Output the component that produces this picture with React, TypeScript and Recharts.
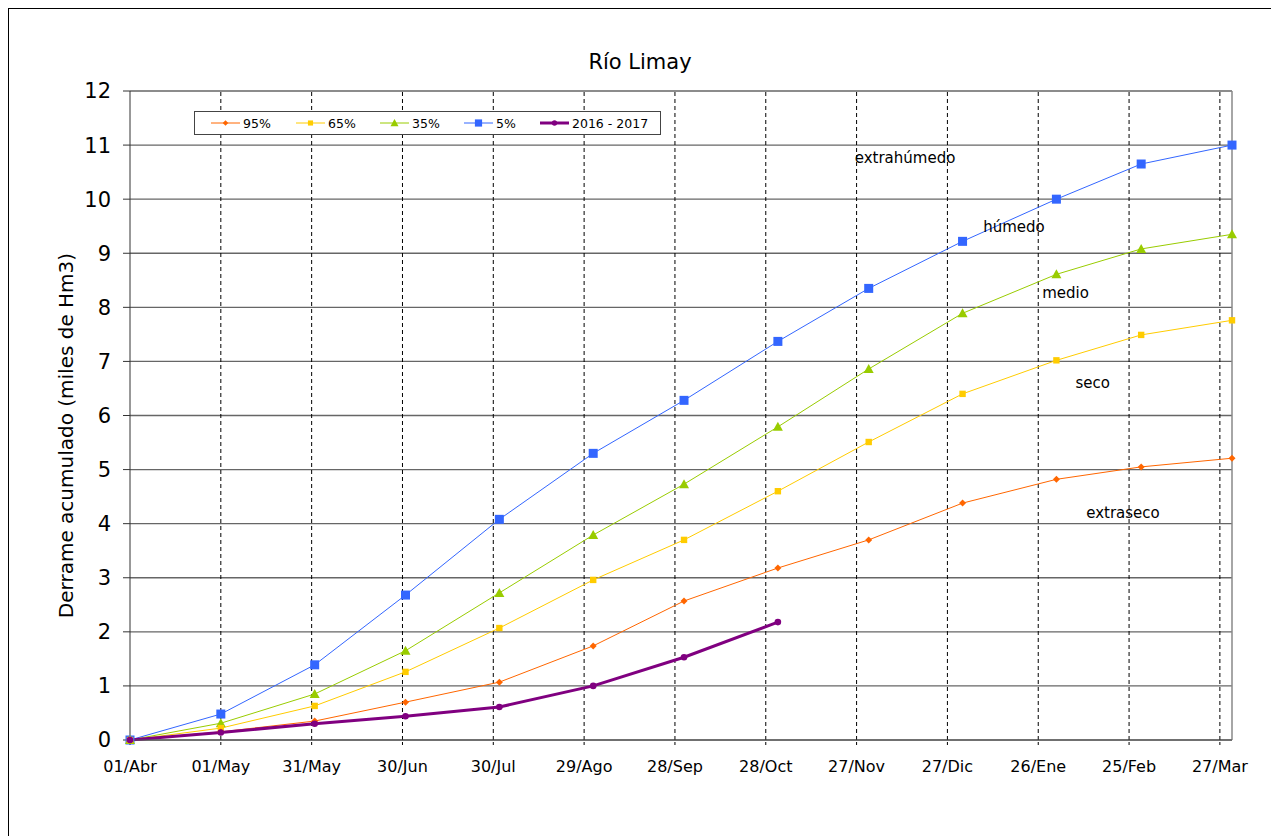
import React from 'react';
import { LineChart, Line, XAxis, YAxis, CartesianGrid, ReferenceLine, ReferenceDot } from 'recharts';

// days counted from 01/Abr
const DAYS = [0, 30, 61, 91, 122, 153, 183, 214, 244, 275, 306, 334, 364];
const P95 = [0, 0.15, 0.35, 0.7, 1.07, 1.74, 2.57, 3.18, 3.7, 4.38, 4.82, 5.05, 5.21];
const P65 = [0, 0.22, 0.63, 1.26, 2.07, 2.96, 3.7, 4.6, 5.51, 6.4, 7.02, 7.49, 7.76];
const P35 = [0, 0.31, 0.85, 1.65, 2.72, 3.79, 4.73, 5.79, 6.86, 7.89, 8.61, 9.08, 9.35];
const P5 = [0, 0.48, 1.39, 2.68, 4.08, 5.3, 6.28, 7.37, 8.35, 9.22, 10.0, 10.65, 11.0];
const Y2016 = [0, 0.14, 0.3, 0.44, 0.61, 1.0, 1.53, 2.18];

const TICK_DAYS = [0, 30, 60, 90, 120, 150, 180, 210, 240, 270, 300, 330, 360];
const TICK_LABELS = ['01/Abr', '01/May', '31/May', '30/Jun', '30/Jul', '29/Ago', '28/Sep', '28/Oct', '27/Nov', '27/Dic', '26/Ene', '25/Feb', '27/Mar'];
const Y_TICKS = [0, 1, 2, 3, 4, 5, 6, 7, 8, 9, 10, 11, 12];

const NOTE_TEXT = ['extrahúmedo', 'húmedo', 'medio', 'seco', 'extraseco'];
const NOTE_DAY = [256, 292, 309, 318, 328];
const NOTE_VAL = [10.76, 9.49, 8.28, 6.6, 4.2];

const data = DAYS.map((d, i) => ({
  day: d,
  p95: P95[i],
  p65: P65[i],
  p35: P35[i],
  p5: P5[i],
  y2016: Y2016[i] ?? null,
}));

const diamond = (cx: number, cy: number, fill: string, s: number, key?: any) => (
  <path key={key} d={`M${cx},${cy - s} L${cx + s},${cy} L${cx},${cy + s} L${cx - s},${cy} Z`} fill={fill} />
);
const square = (cx: number, cy: number, fill: string, s: number, key?: any) => (
  <rect key={key} x={cx - s} y={cy - s} width={s * 2} height={s * 2} fill={fill} />
);
const triangle = (cx: number, cy: number, fill: string, s: number, key?: any) => (
  <path key={key} d={`M${cx},${cy - s} L${cx + s},${cy + s * 0.8} L${cx - s},${cy + s * 0.8} Z`} fill={fill} />
);
const circle = (cx: number, cy: number, fill: string, s: number, key?: any) => (
  <circle key={key} cx={cx} cy={cy} r={s} fill={fill} />
);

const SERIES = [
  { key: 'p5', name: '5%', color: '#3366FF', width: 1, shape: square, size: 4.5 },
  { key: 'p35', name: '35%', color: '#99CC00', width: 1, shape: triangle, size: 5 },
  { key: 'p65', name: '65%', color: '#FFCC00', width: 1, shape: square, size: 3.2 },
  { key: 'p95', name: '95%', color: '#FF6600', width: 1, shape: diamond, size: 3.5 },
  { key: 'y2016', name: '2016 - 2017', color: '#800080', width: 3, shape: circle, size: 3.3 },
];
const LEGEND_ORDER = ['p95', 'p65', 'p35', 'p5', 'y2016'];
const LEGEND_X = [16, 101, 185, 269, 345];

const FONT = '"DejaVu Sans", Verdana, sans-serif';

export default function App() {
  return (
    <div style={{ position: 'relative', width: 1262, height: 840, border: '1px solid #000', fontFamily: FONT, background: '#fff' }}>
      <div style={{ position: 'absolute', top: 40, left: 0, width: '100%', textAlign: 'center', fontSize: 21, lineHeight: '26px' }}>
        Río Limay
      </div>
      <LineChart width={1262} height={840} data={data} margin={{ top: 82, right: 39, left: 51, bottom: 79 }}>
        <CartesianGrid vertical={false} stroke="#666" strokeWidth={1.3} />
        {TICK_DAYS.slice(1).map(d => (
          <ReferenceLine key={d} x={d} stroke="#000" strokeDasharray="4 3" />
        ))}
        <ReferenceLine x={364} stroke="#888" strokeWidth={1.5} />
        <XAxis
          type="number"
          dataKey="day"
          domain={[0, 364]}
          ticks={TICK_DAYS}
          tickFormatter={(v: number) => TICK_LABELS[TICK_DAYS.indexOf(v)]}
          axisLine={{ stroke: '#555' }}
          tickLine={{ stroke: '#000', strokeDasharray: '3 2' }}
          tickSize={5}
          tickMargin={16}
          height={30}
          interval={0}
          tick={{ fill: '#000', fontSize: 16, fontFamily: FONT }}
        />
        <YAxis
          domain={[0, 12]}
          ticks={Y_TICKS}
          width={70}
          interval={0}
          axisLine={{ stroke: '#333' }}
          tickLine={{ stroke: '#333' }}
          tickSize={7}
          tickMargin={12}
          tick={{ fill: '#000', fontSize: 21, fontFamily: FONT }}
          label={{
            content: (p: any) => {
              const vb = p.viewBox;
              const cx = vb.x + 6;
              const cy = vb.y + vb.height / 2 + 20;
              return (
                <text x={cx} y={cy} transform={`rotate(-90 ${cx} ${cy})`} textAnchor="middle" dominantBaseline="central" fontSize={20} fontFamily={FONT} fill="#000">
                  Derrame acumulado (miles de Hm3)
                </text>
              );
            },
          }}
        />
        {SERIES.map(s => (
          <Line
            key={s.key}
            type="linear"
            dataKey={s.key}
            stroke={s.color}
            strokeWidth={s.width}
            isAnimationActive={false}
            connectNulls={false}
            dot={(p: any) => (p.value == null ? <g key={p.key} /> : s.shape(p.cx, p.cy, s.color, s.size, p.key))}
            activeDot={false}
          />
        ))}
        {NOTE_TEXT.map((t, i) => (
          <ReferenceDot
            key={t}
            x={NOTE_DAY[i]}
            y={NOTE_VAL[i]}
            r={0}
            fill="none"
            stroke="none"
            label={{ value: t, position: 'center', fontSize: 15, fill: '#000', fontFamily: FONT }}
          />
        ))}
      </LineChart>
      <div style={{ position: 'absolute', left: 185, top: 102, width: 465, height: 22, border: '1px solid #444', background: '#fff' }}>
        <svg width={465} height={22} style={{ display: 'block' }}>
          {LEGEND_ORDER.map((k, i) => {
            const s = SERIES.find(x => x.key === k)!;
            const x0 = LEGEND_X[i];
            return (
              <g key={k}>
                <line x1={x0} x2={x0 + 29} y1={11} y2={11} stroke={s.color} strokeWidth={s.width} />
                {s.shape(x0 + 14.5, 11, s.color, s.size * 0.8)}
                <text x={x0 + 32} y={11} dominantBaseline="central" fontSize={12.5} fontFamily={FONT} fill="#000">
                  {s.name}
                </text>
              </g>
            );
          })}
        </svg>
      </div>
    </div>
  );
}
